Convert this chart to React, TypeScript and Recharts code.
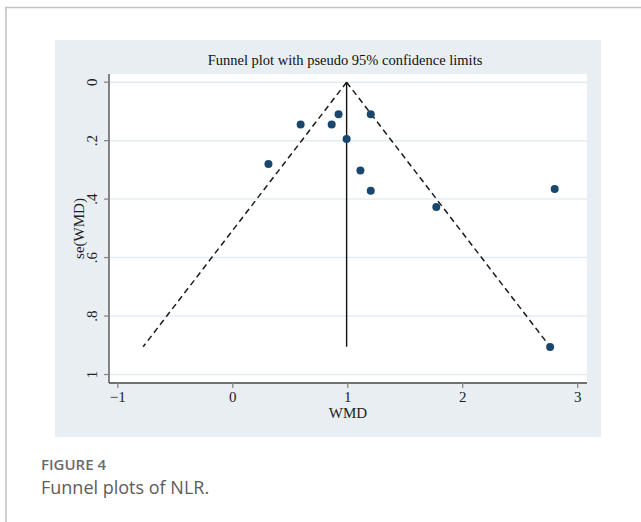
import React from "react"
import { ScatterChart, Scatter, XAxis, YAxis, CartesianGrid } from "recharts"

// estudos: efeito (WMD) e erro padrão
const wmd = [0.92, 1.2, 0.59, 0.86, 0.99, 0.31, 1.11, 1.2, 2.8, 1.77, 2.76]
const seWmd = [0.11, 0.11, 0.145, 0.145, 0.194, 0.28, 0.302, 0.371, 0.365, 0.427, 0.906]

// linha do efeito combinado e limites pseudo 95%
const pooledWmd = [0.99, 0.99]
const lowerLimit = [0.99, -0.78]
const upperLimit = [0.99, 2.76]
const limitSe = [0, 0.905]

const xTicks = [-1, 0, 1, 2, 3]
const yTicks = [0, 0.2, 0.4, 0.6, 0.8, 1]

const serif = "'Liberation Serif', 'Times New Roman', serif"
const sans = "'Open Sans', 'Noto Sans', sans-serif"

const studies = wmd.map((x, i) => ({ x, y: seWmd[i] }))
const toLine = (xs: number[]) => xs.map((x, i) => ({ x, y: limitSe[i] }))

const fmtY = (v: number) => (v === 0 ? "0" : v === 1 ? "1" : String(v).replace(/^0/, ""))
const fmtX = (v: number) => (v < 0 ? "\u2212" + Math.abs(v) : String(v))

const XTick = (p: any) => (
  <text x={p.x} y={p.y + 12} textAnchor="middle" fontFamily={serif} fontSize={15} fill="#222">
    {fmtX(p.payload.value)}
  </text>
)

const YTick = (p: any) => {
  const x = p.x - 5
  return (
    <text
      x={x}
      y={p.y}
      textAnchor="middle"
      transform={`rotate(-90, ${x}, ${p.y})`}
      fontFamily={serif}
      fontSize={15}
      fill="#222"
    >
      {fmtY(p.payload.value)}
    </text>
  )
}

const Dot = (p: any) => <circle cx={p.cx} cy={p.cy} r={4} fill="#1a476f" />
const NoDot = () => <g />

export default function App() {
  return (
    <div style={{ position: "absolute", left: 0, top: 0, width: 641, height: 522, background: "#fff" }}>
      <div style={{ position: "absolute", left: 55, top: 40, width: 546, height: 397, background: "#e8eef2" }}>
        <ScatterChart width={546} height={397} margin={{ top: 34, right: 14, bottom: 0, left: 0 }}>
          <CartesianGrid
            vertical={false}
            fill="#ffffff"
            fillOpacity={1}
            stroke="#e4ecf0"
            strokeWidth={1.5}
            horizontalValues={yTicks}
          />
          <XAxis
            type="number"
            dataKey="x"
            domain={[-1.077, 3.081]}
            allowDataOverflow
            ticks={xTicks}
            height={54}
            tickSize={5}
            tickMargin={2}
            stroke="#444"
            strokeWidth={1.3}
            tickLine={{ stroke: "#888" }}
            tick={<XTick />}
            label={(p: any) => {
              const vb = p.viewBox || { x: 54, y: 343, width: 478 }
              return (
                <text
                  x={vb.x + vb.width / 2}
                  y={vb.y + 35}
                  textAnchor="middle"
                  fontFamily={serif}
                  fontSize={15}
                  fill="#222"
                >
                  WMD
                </text>
              )
            }}
          />
          <YAxis
            type="number"
            dataKey="y"
            domain={[-0.028, 1.029]}
            allowDataOverflow
            reversed
            ticks={yTicks}
            width={54}
            tickSize={5}
            tickMargin={2}
            stroke="#444"
            strokeWidth={1.3}
            tickLine={{ stroke: "#888" }}
            tick={<YTick />}
            label={(p: any) => {
              const vb = p.viewBox || { x: 0, y: 34, height: 309 }
              const x = vb.x + 29
              const y = vb.y + vb.height / 2
              return (
                <text
                  x={x}
                  y={y}
                  textAnchor="middle"
                  transform={`rotate(-90, ${x}, ${y})`}
                  fontFamily={serif}
                  fontSize={15}
                  fill="#222"
                >
                  se(WMD)
                </text>
              )
            }}
          />
          <Scatter
            data={toLine(lowerLimit)}
            line={{ stroke: "#1b1b1b", strokeWidth: 1.5, strokeDasharray: "6 4" }}
            shape={<NoDot />}
            isAnimationActive={false}
          />
          <Scatter
            data={toLine(upperLimit)}
            line={{ stroke: "#1b1b1b", strokeWidth: 1.5, strokeDasharray: "6 4" }}
            shape={<NoDot />}
            isAnimationActive={false}
          />
          <Scatter
            data={toLine(pooledWmd)}
            line={{ stroke: "#111", strokeWidth: 1.4 }}
            shape={<NoDot />}
            isAnimationActive={false}
          />
          <Scatter data={studies} shape={<Dot />} isAnimationActive={false} />
        </ScatterChart>
      </div>
      <svg width={641} height={522} style={{ position: "absolute", left: 0, top: 0, pointerEvents: "none" }}>
        <line x1={5} y1={7.5} x2={641} y2={7.5} stroke="#c2c2c2" strokeWidth={1.5} />
        <line x1={6} y1={7} x2={6} y2={522} stroke="#c2c2c2" strokeWidth={1.5} />
        <text x={345} y={65} textAnchor="middle" fontFamily={serif} fontSize={14.5} fill="#111">
          Funnel plot with pseudo 95% confidence limits
        </text>
        <text x={41} y={470} fontFamily={sans} fontWeight={600} fontSize={15} fill="#6b6b6b">
          FIGURE 4
        </text>
        <text x={41} y={494} fontFamily={sans} fontSize={18} fill="#5c5c5c">
          Funnel plots of NLR.
        </text>
      </svg>
    </div>
  )
}
